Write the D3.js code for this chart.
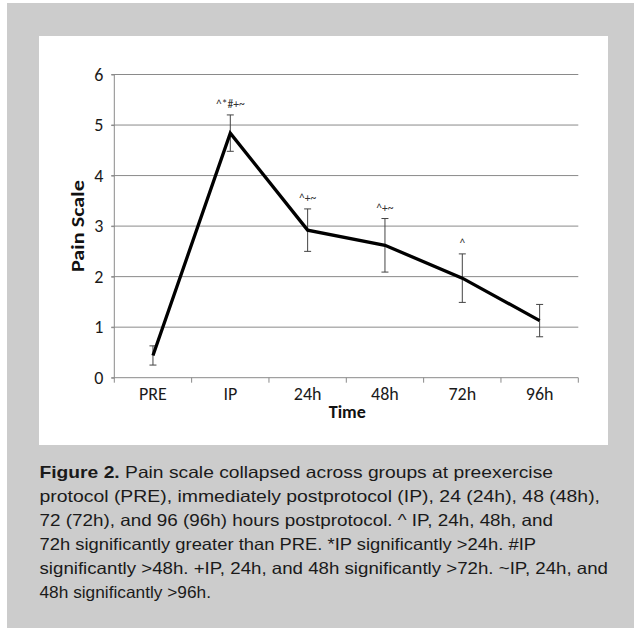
<!DOCTYPE html>
<html>
<head>
<meta charset="utf-8">
<script src="https://cdn.jsdelivr.net/npm/d3@7"></script>
<style>
    body { margin: 0; background: #ffffff; }
    svg { display: block; }
</style>
</head>
<body>
<svg id="chart"></svg>
<script>
// chart values
var timePoints = ["PRE", "IP", "24h", "48h", "72h", "96h"];
var painMeans = [0.44, 4.84, 2.92, 2.62, 1.97, 1.13];
var painErrors = [0.19, 0.36, 0.42, 0.53, 0.48, 0.32];
var sigMarks = ["", "^*#+~", "^+~", "^+~", "^", ""];
var yTicks = [0, 1, 2, 3, 4, 5, 6];

var captionLines = [
    "Pain scale collapsed across groups at preexercise",
    "protocol (PRE), immediately postprotocol (IP), 24 (24h), 48 (48h),",
    "72 (72h), and 96 (96h) hours postprotocol. ^ IP, 24h, 48h, and",
    "72h significantly greater than PRE. *IP significantly >24h. #IP",
    "significantly >48h. +IP, 24h, and 48h significantly >72h. ~IP, 24h, and",
    "48h significantly >96h."
];
// right end of each caption line in the figure
var captionEnds = [553, 600, 553, 536, 608, 211];

var width = 634;
var height = 628;
var svg = d3.select("#chart")
    .attr("width", width)
    .attr("height", height);

// grey page panel and the white chart box
svg.append("rect")
    .attr("x", 7).attr("y", 3)
    .attr("width", width - 7).attr("height", height - 3)
    .attr("fill", "#cccccc");
svg.append("rect")
    .attr("x", 39).attr("y", 36)
    .attr("width", 569).attr("height", 409)
    .attr("fill", "#ffffff");

var plot = { left: 114.3, right: 578.3, top: 74.5, bottom: 377.7 };
var labelFont = "Carlito, Lato, 'Open Sans', sans-serif";

var x = d3.scaleBand()
    .domain(timePoints)
    .range([plot.left, plot.right])
    .padding(0);

var y = d3.scaleLinear()
    .domain([0, 6])
    .range([plot.bottom, plot.top]);

// horizontal gridlines
svg.append("g")
    .selectAll("line")
    .data(yTicks.filter(d => d > 0))
    .join("line")
    .attr("x1", plot.left - 3)
    .attr("x2", plot.right)
    .attr("y1", d => y(d))
    .attr("y2", d => y(d))
    .attr("stroke", "#8a8a8a")
    .attr("stroke-width", 1);

// y axis
var gy = svg.append("g")
    .attr("transform", "translate(" + plot.left + ",0)")
    .call(d3.axisLeft(y).tickValues(yTicks).tickSize(3).tickPadding(8).tickFormat(d3.format("d")));
gy.select(".domain").attr("stroke", "#8a8a8a").attr("d", "M0," + plot.bottom + "V" + plot.top);
gy.selectAll(".tick line").attr("stroke", "#8a8a8a");
gy.selectAll(".tick text")
    .attr("font-family", labelFont)
    .attr("font-size", 18)
    .attr("fill", "#1a1a1a");

// x axis line and ticks at category boundaries
svg.append("line")
    .attr("x1", plot.left - 3).attr("x2", plot.right)
    .attr("y1", plot.bottom).attr("y2", plot.bottom)
    .attr("stroke", "#8a8a8a");
var bounds = timePoints.map(d => x(d)).concat([plot.right]);
svg.append("g")
    .selectAll("line")
    .data(bounds)
    .join("line")
    .attr("x1", d => d).attr("x2", d => d)
    .attr("y1", plot.bottom).attr("y2", plot.bottom + 5)
    .attr("stroke", "#8a8a8a");
svg.append("g")
    .selectAll("text")
    .data(timePoints)
    .join("text")
    .attr("x", d => x(d) + x.bandwidth() / 2)
    .attr("y", plot.bottom + 22)
    .attr("text-anchor", "middle")
    .attr("font-family", labelFont)
    .attr("font-size", 18)
    .attr("fill", "#1a1a1a")
    .text(d => d);

// axis titles
svg.append("text")
    .attr("x", (plot.left + plot.right) / 2 + 1)
    .attr("y", plot.bottom + 40)
    .attr("text-anchor", "middle")
    .attr("font-family", labelFont)
    .attr("font-weight", "bold")
    .attr("font-size", 18)
    .attr("fill", "#111")
    .text("Time");
svg.append("text")
    .attr("transform", "translate(84," + ((plot.top + plot.bottom) / 2) + ") rotate(-90)")
    .attr("text-anchor", "middle")
    .attr("font-family", labelFont)
    .attr("font-weight", "bold")
    .attr("font-size", 19)
    .attr("textLength", 92)
    .attr("lengthAdjust", "spacingAndGlyphs")
    .attr("fill", "#111")
    .text("Pain Scale");

var cx = d => x(d) + x.bandwidth() / 2;

// error bars
var errs = svg.append("g")
    .selectAll("g")
    .data(timePoints)
    .join("g")
    .attr("stroke", "#444")
    .attr("stroke-width", 1);
errs.append("line")
    .attr("x1", d => cx(d)).attr("x2", d => cx(d))
    .attr("y1", (d, i) => y(painMeans[i] + painErrors[i]))
    .attr("y2", (d, i) => y(painMeans[i] - painErrors[i]));
errs.append("line")
    .attr("x1", d => cx(d) - 3.5).attr("x2", d => cx(d) + 3.5)
    .attr("y1", (d, i) => y(painMeans[i] + painErrors[i]))
    .attr("y2", (d, i) => y(painMeans[i] + painErrors[i]));
errs.append("line")
    .attr("x1", d => cx(d) - 3.5).attr("x2", d => cx(d) + 3.5)
    .attr("y1", (d, i) => y(painMeans[i] - painErrors[i]))
    .attr("y2", (d, i) => y(painMeans[i] - painErrors[i]));

// mean line
var lineFn = d3.line()
    .x((d, i) => cx(timePoints[i]))
    .y(d => y(d));
svg.append("path")
    .datum(painMeans)
    .attr("d", lineFn)
    .attr("fill", "none")
    .attr("stroke", "#000")
    .attr("stroke-width", 3.3)
    .attr("stroke-linejoin", "miter");

// significance marks
svg.append("g")
    .selectAll("text")
    .data(timePoints)
    .join("text")
    .attr("x", d => cx(d))
    .attr("y", (d, i) => y(painMeans[i] + painErrors[i]) - 7)
    .attr("text-anchor", "middle")
    .attr("font-family", labelFont)
    .attr("font-size", 11.5)
    .attr("fill", "#333")
    .text((d, i) => sigMarks[i]);

// caption
var cap = svg.append("g")
    .attr("font-family", "'Liberation Sans', Arial, sans-serif")
    .attr("font-size", 16.5)
    .attr("fill", "#1a1a1a");
captionLines.forEach(function(line, i) {
    var t = cap.append("text")
        .attr("x", 39.5)
        .attr("y", 478 + i * 23.9)
        .attr("textLength", captionEnds[i] - 39.5)
        .attr("lengthAdjust", "spacingAndGlyphs");
    if (i === 0) {
        t.append("tspan").attr("font-weight", "bold").text("Figure 2.");
        t.append("tspan").text(" " + line);
    } else {
        t.text(line);
    }
});
</script>
</body>
</html>
